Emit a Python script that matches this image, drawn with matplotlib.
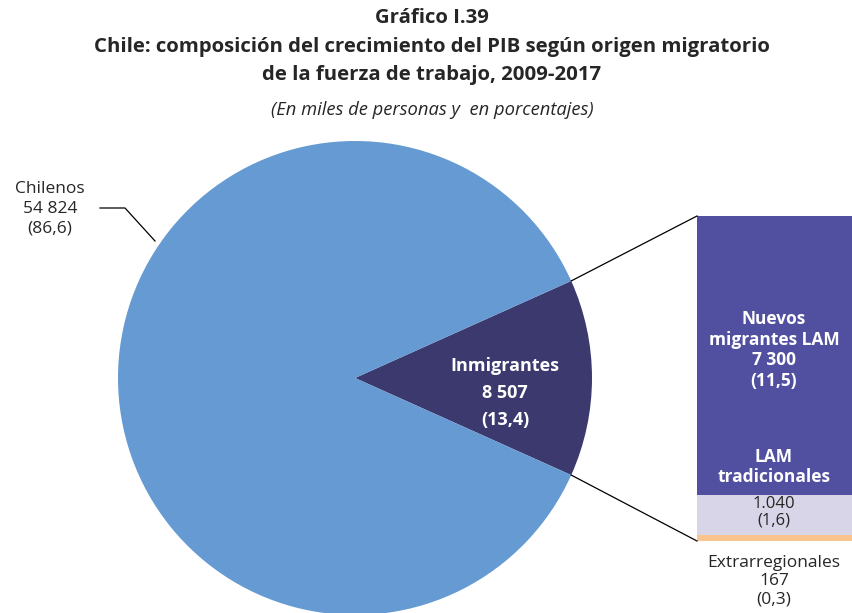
import numpy as np
import matplotlib
matplotlib.use('Agg')
import matplotlib.pyplot as plt

plt.rcParams['font.family'] = ['Open Sans', 'DejaVu Sans']

# Composición del crecimiento (miles de personas, %)
pie_labels = ['Inmigrantes', 'Chilenos']
pie_values = [8507, 54824]
pie_pct = ['13,4', '86,6']
pie_text = ['8 507', '54 824']

bar_labels = ['Extrarregionales', 'LAM tradicionales', 'Nuevos migrantes LAM']
bar_values = [167, 1040, 7300]
bar_pct = ['0,3', '1,6', '11,5']
bar_text = ['167', '1.040', '7 300']

W, H = 852, 613
fig = plt.figure(figsize=(W / 100, H / 100), dpi=100)
ax = fig.add_axes([0, 0, 1, 1])

cx, cy, r = 355, H - 378, 237
half = pie_values[0] / sum(pie_values) * 180
ax.pie(pie_values, colors=['#3c396f', '#659ad2'], startangle=-half,
       center=(cx, cy), radius=r, frame=True,
       wedgeprops=dict(linewidth=0))
ax.set_xlim(0, W)
ax.set_ylim(0, H)
ax.set_aspect('equal')
ax.axis('off')

# barra desagregada de inmigrantes
bx0, bw = 697, 160
by0, bh = H - 541, 325
scale = bh / sum(bar_values)
bar_colors = ['#fbc48f', '#d9d5e9', '#5150a0']
bottom = by0
for v, c in zip(bar_values, bar_colors):
    ax.bar(bx0, v * scale, bottom=bottom, width=bw, align='edge', color=c, linewidth=0)
    bottom += v * scale

# líneas de unión torta -> barra
a = np.deg2rad(half)
p_top = (cx + r * np.cos(a), cy + r * np.sin(a))
p_bot = (cx + r * np.cos(-a), cy + r * np.sin(-a))
ax.plot([p_top[0], bx0], [p_top[1], by0 + bh], color='black', lw=0.9)
ax.plot([p_bot[0], bx0], [p_bot[1], by0], color='black', lw=0.9)

# títulos
tc = '#262626'
ax.text(432, H - 18, 'Gráfico I.39', ha='center', va='center', fontsize=14.7, fontweight='bold', color=tc)
ax.text(432, H - 47, 'Chile: composición del crecimiento del PIB según origen migratorio',
        ha='center', va='center', fontsize=14.7, fontweight='bold', color=tc)
ax.text(432, H - 75, 'de la fuerza de trabajo, 2009-2017', ha='center', va='center',
        fontsize=14.7, fontweight='bold', color=tc)
ax.text(432, H - 110, '(En miles de personas y  en porcentajes)', ha='center', va='center',
        fontsize=13.2, style='italic', color=tc)

# etiquetas de la torta
ax.text(505, H - 393, f'{pie_labels[0]}\n{pie_text[0]}\n({pie_pct[0]})', ha='center', va='center',
        fontsize=13, fontweight='bold', color='white', linespacing=1.65)
ax.text(50, H - 209, f'{pie_labels[1]}\n{pie_text[1]}\n({pie_pct[1]})', ha='center', va='center',
        fontsize=12.5, color=tc, linespacing=1.3)
ax.plot([100, 125, 155], [H - 208, H - 208, H - 241], color='black', lw=0.9)

# etiquetas de la barra
bxc = bx0 + 77
ax.text(bxc, H - 350, f'Nuevos\nmigrantes LAM\n{bar_text[2]}\n({bar_pct[2]})', ha='center', va='center',
        fontsize=12.5, fontweight='bold', color='white', linespacing=1.18)
ax.text(bxc, H - 467, 'LAM\ntradicionales', ha='center', va='center',
        fontsize=12.5, fontweight='bold', color='white', linespacing=1.15)
ax.text(bxc, H - 512, f'{bar_text[1]}\n({bar_pct[1]})', ha='center', va='center',
        fontsize=12, color=tc, linespacing=1.08)
ax.text(bxc, H - 581, f'{bar_labels[0]}\n{bar_text[0]}\n({bar_pct[0]})', ha='center', va='center',
        fontsize=12.5, color=tc, linespacing=1.2)

fig.savefig('out.png', dpi=100)
